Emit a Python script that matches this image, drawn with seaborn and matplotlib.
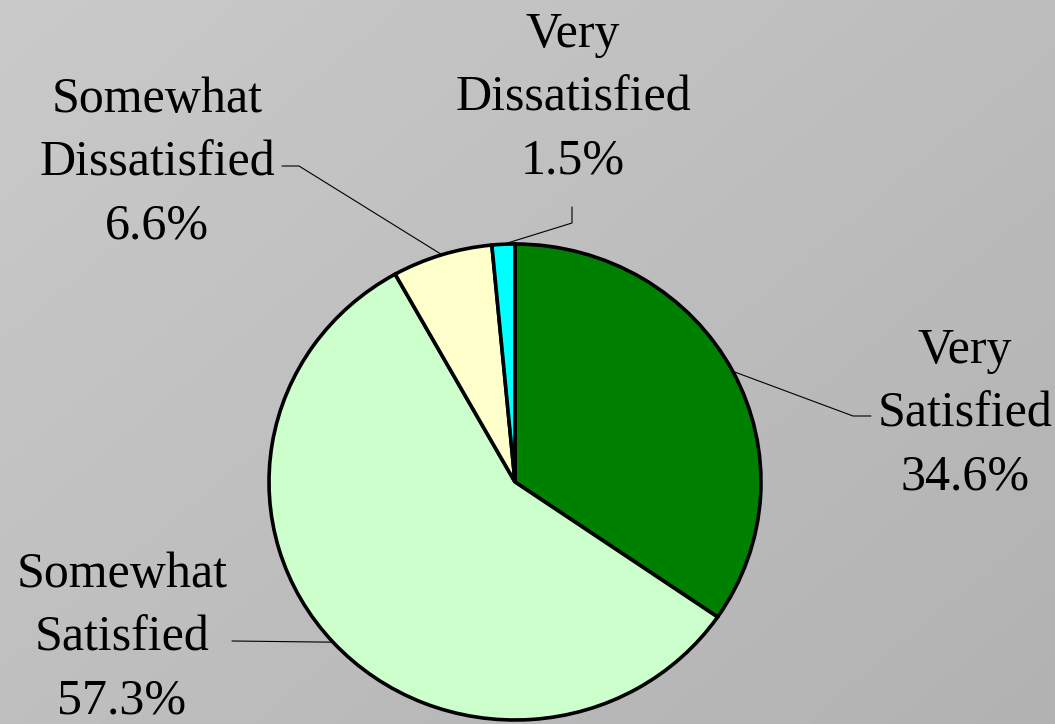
import numpy as np
import matplotlib
matplotlib.use("Agg")
import matplotlib.pyplot as plt
import seaborn as sns

# ---- data ----
categories = ["Very\nSatisfied", "Somewhat\nSatisfied", "Somewhat\nDissatisfied", "Very\nDissatisfied"]
values = [34.6, 57.3, 6.6, 1.5]
colors = ["#008000", "#CCFFCC", "#FFFFCC", "#00FFFF"]

sns.set_style("white")
plt.rcParams["font.family"] = ["Liberation Serif", "DejaVu Serif"]

W, H = 1055, 724
fig = plt.figure(figsize=(W / 100, H / 100), dpi=100)

# gradient background
bg = fig.add_axes([0, 0, 1, 1])
yy, xx = np.mgrid[0:1:200j, 0:1:200j]
grad = 202 - 24 * (0.55 * xx + 0.45 * yy)
bg.imshow(np.dstack([grad, grad, grad]) / 255.0, extent=[0, 1, 0, 1], aspect="auto", origin="upper")
bg.axis("off")

# pie axes: pixel scale 246 px / unit in x, 238 px / unit in y, centre at (515, 482)
sx, sy, cx, cy = 246.0, 238.0, 515.0, 482.0
ax = fig.add_axes([0, 0, 1, 1])
ax.patch.set_alpha(0)

wedges, _ = ax.pie(values, colors=colors, startangle=90, counterclock=False, radius=1,
                   wedgeprops=dict(edgecolor="black", linewidth=2.6), frame=True)
ax.set_xlim(-cx / sx, (W - cx) / sx)
ax.set_ylim(-(H - cy) / sy, cy / sy)
ax.set_aspect("auto")
ax.axis("off")

def d(px, py):
    return ((px - cx) / sx, (cy - py) / sy)

# label layout: text centre, elbow points (pixel positions)
layout = [
    dict(text=d(965, 414), path=[d(871, 416), d(853, 416)]),
    dict(text=d(122, 638), path=[d(232, 641)]),
    dict(text=d(157, 163), path=[d(282, 166), d(299, 166)]),
    dict(text=d(573, 98), path=[d(572, 207), d(572, 223)]),
]

for w, cat, v, lay in zip(wedges, categories, values, layout):
    ang = np.deg2rad((w.theta1 + w.theta2) / 2)
    edge = (np.cos(ang), np.sin(ang))
    pts = lay["path"] + [edge]
    ax.plot([p[0] for p in pts], [p[1] for p in pts], color="black", lw=0.8, zorder=5)
    ax.text(lay["text"][0], lay["text"][1], f"{cat}\n{v:.1f}%", ha="center", va="center",
            fontsize=36, linespacing=1.47, color="black")

fig.savefig("out.png", dpi=100)
